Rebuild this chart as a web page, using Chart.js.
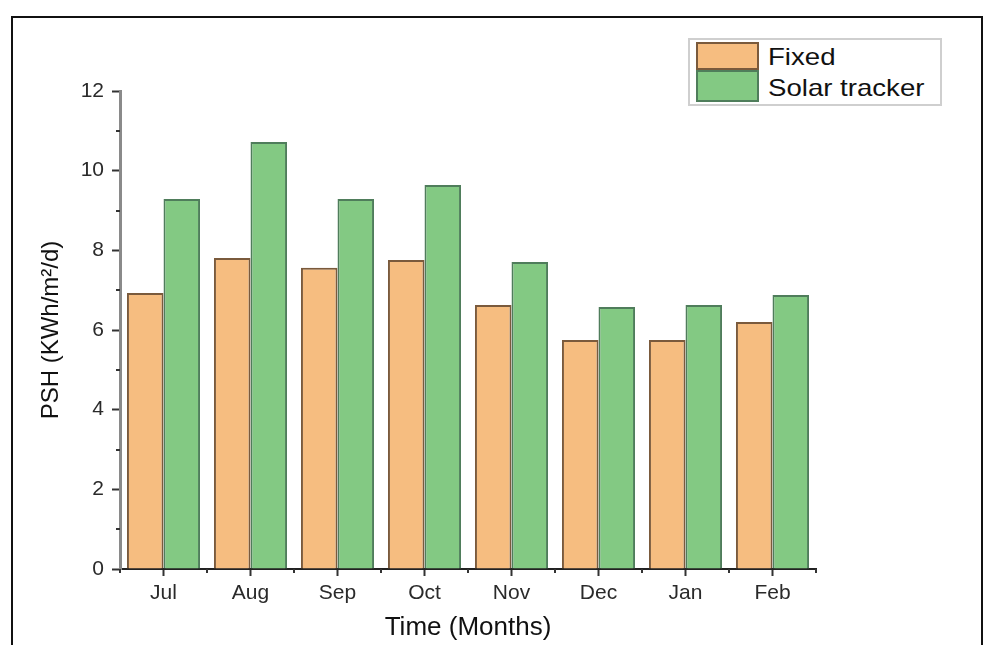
<!DOCTYPE html>
<html>
<head>
<meta charset="utf-8">
<title>PSH fixed vs solar tracker</title>
<script src="https://cdn.jsdelivr.net/npm/chart.js@4.4.1/dist/chart.umd.min.js"></script>
<style>
  body { margin: 0; background: #fff; overflow: hidden; }
  #wrap { position: relative; width: 993px; height: 645px; }
  #frame { position: absolute; left: 11px; top: 16px; width: 968px; height: 640px; border: 2px solid #111; border-bottom: none; }
  #chart { position: absolute; left: 0; top: 0; }
  #legend { position: absolute; left: 688px; top: 38px; width: 250px; height: 64px; border: 2px solid #cfcfcf; background: #fff;
            font-family: 'Liberation Sans', Arial, sans-serif; font-size: 24px; color: #111; }
  .swatch { position: absolute; left: 6px; width: 63px; box-sizing: border-box; border: 2px solid; }
  .label { position: absolute; left: 78px; line-height: 1; white-space: nowrap; transform: scaleX(1.15); transform-origin: left center; }
</style>
</head>
<body>
<div id="wrap">
  <div id="frame"></div>
  <canvas id="chart" width="993" height="645"></canvas>
  <div id="legend"></div>
</div>
<script>
// data
const months = ['Jul', 'Aug', 'Sep', 'Oct', 'Nov', 'Dec', 'Jan', 'Feb'];
const fixedPSH = [6.93, 7.81, 7.56, 7.76, 6.63, 5.75, 5.75, 6.2];
const trackerPSH = [9.29, 10.72, 9.29, 9.64, 7.71, 6.58, 6.63, 6.88];
const seriesNames = ['Fixed', 'Solar tracker'];
const yTicks = [0, 2, 4, 6, 8, 10, 12];

const fills = ['#F6BD80', '#83C983'];
const edges = ['#7A5A3C', '#4F7D5B'];

Chart.defaults.font.family = "'Liberation Sans', Arial, sans-serif";

// short ticks between the labelled ones
const minorTicks = {
  id: 'minorTicks',
  afterDraw(chart) {
    const ctx = chart.ctx;
    const x = chart.scales.x, y = chart.scales.y;
    ctx.save();
    ctx.strokeStyle = '#333';
    ctx.lineWidth = 2;
    ctx.beginPath();
    for (let v = 1; v < yTicks[yTicks.length - 1]; v += 2) {
      const py = Math.round(y.getPixelForValue(v));
      ctx.moveTo(chart.chartArea.left - 4, py);
      ctx.lineTo(chart.chartArea.left, py);
    }
    for (let i = 0; i <= months.length; i++) {
      const px = Math.round(x.getPixelForValue(i - 0.5));
      ctx.moveTo(px, chart.chartArea.bottom);
      ctx.lineTo(px, chart.chartArea.bottom + 4);
    }
    ctx.stroke();
    ctx.restore();
  }
};

const ctx = document.getElementById('chart').getContext('2d');
const chart = new Chart(ctx, {
  type: 'bar',
  data: {
    labels: months,
    datasets: [
      { label: seriesNames[0], data: fixedPSH, backgroundColor: fills[0], borderColor: edges[0], borderWidth: 2 },
      { label: seriesNames[1], data: trackerPSH, backgroundColor: fills[1], borderColor: edges[1], borderWidth: 2 }
    ]
  },
  options: {
    responsive: false,
    animation: false,
    events: [],
    layout: { padding: { top: 91, right: 177, left: 0, bottom: 0 } },
    datasets: { bar: { categoryPercentage: 0.84, barPercentage: 1.0 } },
    plugins: { legend: { display: false }, tooltip: { enabled: false } },
    scales: {
      x: {
        afterFit: (s) => { s.height = 76; },
        grid: { display: true, drawOnChartArea: false, offset: false, tickLength: 7, tickColor: '#333', tickWidth: 2 },
        border: { display: true, color: '#222', width: 2 },
        ticks: { color: '#2a2a2a', font: { size: 21 }, padding: 5 },
        title: { display: true, text: 'Time (Months)', color: '#111', font: { size: 26 }, padding: { top: 0, bottom: 2 } }
      },
      y: {
        min: 0,
        max: 12,
        afterFit: (s) => { s.width = 120; },
        afterBuildTicks: (s) => { s.ticks = yTicks.map(v => ({ value: v })); },
        grid: { display: true, drawOnChartArea: false, tickLength: 8, tickColor: '#333', tickWidth: 2 },
        border: { display: true, color: '#8a8a8a', width: 3 },
        ticks: { color: '#2a2a2a', font: { size: 21 }, padding: 8 },
        title: { display: true, text: 'PSH (KWh/m²/d)', color: '#111', font: { size: 24 }, padding: { top: 37, bottom: 0 } }
      }
    }
  },
  plugins: [minorTicks]
});

// legend box built from the series
const legend = document.getElementById('legend');
const rows = [{ top: 2, h: 28, textTop: 5 }, { top: 30, h: 32, textTop: 36 }];
seriesNames.forEach((name, i) => {
  const sw = document.createElement('div');
  sw.className = 'swatch';
  sw.style.top = rows[i].top + 'px';
  sw.style.height = rows[i].h + 'px';
  sw.style.background = fills[i];
  sw.style.borderColor = edges[i];
  legend.appendChild(sw);
  const lb = document.createElement('div');
  lb.className = 'label';
  lb.style.top = rows[i].textTop + 'px';
  lb.textContent = name;
  legend.appendChild(lb);
});
</script>
</body>
</html>
